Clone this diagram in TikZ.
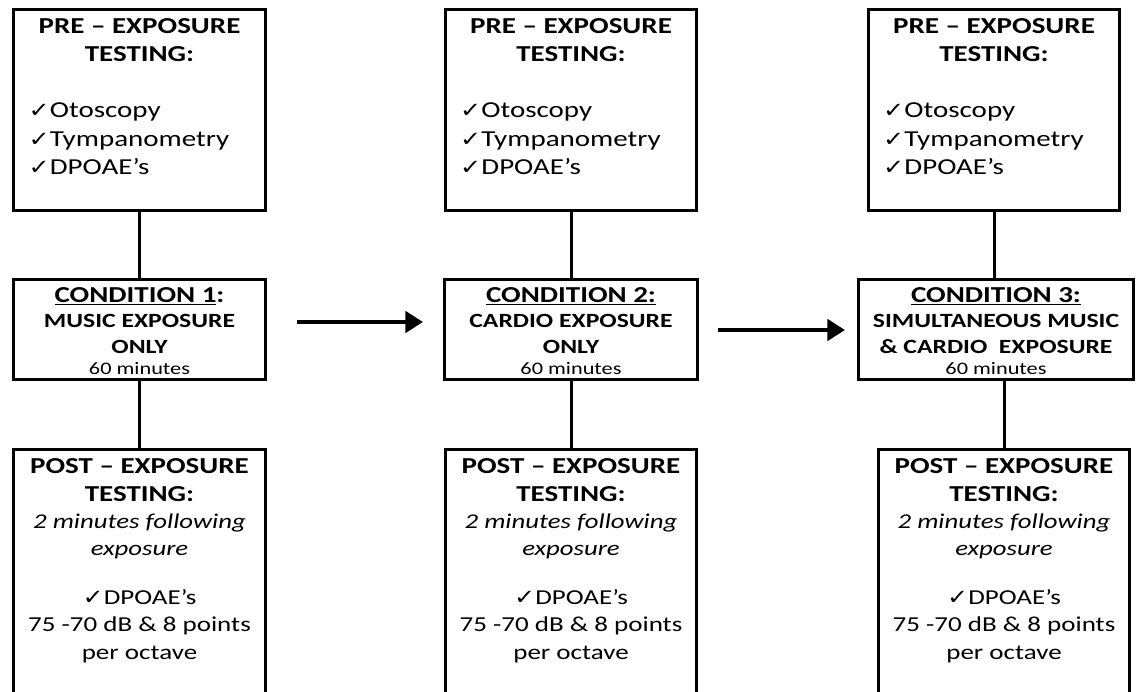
\documentclass[tikz,border=0pt]{standalone}
\usepackage{fontspec}
\setmainfont{Carlito}[FakeStretch=1.27]
\newfontfamily\symfont{DejaVu Sans}[FakeStretch=1.2]
\usetikzlibrary{arrows.meta, positioning}

\newcommand{\tick}{{\symfont\fontsize{12}{12}\selectfont ✓}}

\begin{document}
\begin{tikzpicture}[x=0.02cm, y=-0.02cm,
  box/.style={draw, line width=1.7pt, inner sep=0pt},
  link/.style={line width=1.7pt},
  flow/.style={line width=2.4pt, -{Triangle[length=10pt, width=12pt]}},
  head/.style={align=center, font=\fontsize{13}{15.5}\selectfont\bfseries},
  checks/.style={align=left, anchor=west, font=\fontsize{13}{16.2}\selectfont},
  cond/.style={align=center, font=\fontsize{11.5}{14.6}\selectfont\bfseries},
  post/.style={align=center, font=\fontsize{12.1}{15.5}\selectfont}
]
\useasboundingbox (0,0) rectangle (1136,691);

% pre-exposure testing
\foreach \i/\cx in {1/139.5, 2/571, 3/994} {
  \node[box, minimum width=5.04cm, minimum height=4.04cm] (pre\i) at (\cx,110) {};
  \node[head] at (\cx,40) {PRE – EXPOSURE\\TESTING:};
  \node[checks] at (\cx-117,139) {\tick Otoscopy\\\tick Tympanometry\\\tick DPOAE’s};
}

% conditions
\node[box, minimum width=5.04cm, minimum height=2cm] (cond1) at (139.5,329.5) {};
\node[box, minimum width=5.06cm, minimum height=2cm] (cond2) at (571,329.5) {};
\node[box, minimum width=5.5cm, minimum height=2cm] (cond3) at (996,329.5) {};
\node[cond] at (139.5,331)
  {\fontsize{13}{14}\selectfont\underline{CONDITION 1}:\\MUSIC EXPOSURE\\ONLY\\[-2.5pt]
   {\mdseries\fontsize{10}{12}\selectfont 60 minutes}};
\node[cond] at (571,331)
  {\fontsize{13}{14}\selectfont\underline{CONDITION 2:}\\CARDIO EXPOSURE\\ONLY\\[-2.5pt]
   {\mdseries\fontsize{10}{12}\selectfont 60 minutes}};
\node[cond] at (996,331)
  {\fontsize{13}{14}\selectfont\underline{CONDITION 3:}\\SIMULTANEOUS MUSIC\\\& CARDIO\ \ EXPOSURE\\[-2.5pt]
   {\mdseries\fontsize{10}{12}\selectfont 60 minutes}};

% post-exposure testing
\foreach \i/\cx in {1/139.5, 2/571, 3/1004} {
  \node[box, minimum width=5.04cm, minimum height=5.22cm] (post\i) at (\cx,579.5) {};
  \node[post] at (\cx,509) {{\fontsize{13}{15.5}\selectfont\bfseries POST – EXPOSURE}\\
    {\fontsize{13}{15.5}\selectfont\bfseries TESTING:}\\
    {\fontsize{12}{15.5}\selectfont\itshape 2 minutes following}\\
    {\fontsize{12}{15.5}\selectfont\itshape exposure}};
  \node[post] at (\cx,626) {\tick DPOAE’s\\75 -70 dB \& 8 points\\per octave};
}

% links
\draw[link] (pre1) -- (cond1);
\draw[link] (cond1) -- (post1);
\draw[link] (pre2) -- (cond2);
\draw[link] (cond2) -- (post2);
\draw[link] (pre3.south) -- (pre3.south |- cond3.north);
\draw[link] (post3.north |- cond3.south) -- (post3.north);

% order of conditions
\coordinate (a1) at (297,322);
\coordinate (b1) at (423,322);
\coordinate (a2) at (718,330);
\coordinate (b2) at (845,330);
\draw[flow] (a1) -- (b1);
\draw[flow] (a2) -- (b2);
\end{tikzpicture}
\end{document}
